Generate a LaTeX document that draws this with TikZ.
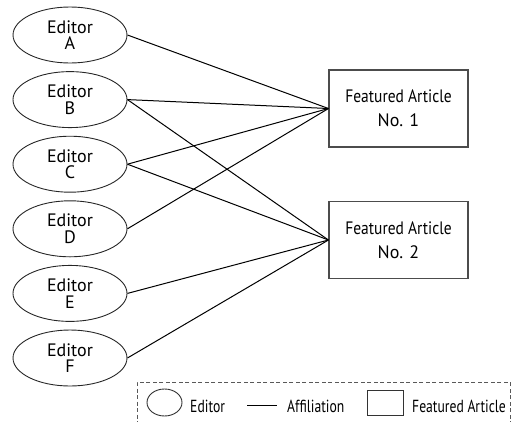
\documentclass[tikz,border=0pt]{standalone}
\usepackage{fontspec}
\setmainfont{PT Sans}
\newfontfamily\narrowsans[FakeStretch=0.86]{PT Sans}
\newfontfamily\keysans[FakeStretch=0.78]{PT Sans}
\usetikzlibrary{shapes.geometric}

\begin{document}
\begin{tikzpicture}[x=1pt,y=-1pt,
  editor/.style={ellipse, draw=black!85, line width=0.9pt,
    minimum width=114pt, minimum height=56pt, inner sep=0pt,
    align=center, font=\fontsize{18}{16.5}\selectfont},
  article/.style={rectangle, draw=black!70, line width=1.1pt,
    minimum width=139pt, minimum height=77pt, inner sep=0pt,
    align=center, font=\fontsize{18}{24}\selectfont},
  link/.style={line width=1pt, black},
  keybox/.style={draw=black!65, line width=1pt, dash pattern=on 4pt off 2.5pt},
  keytext/.style={anchor=base west, inner sep=0pt,
    font=\keysans\fontsize{17.5}{20}\selectfont},
  keyshape/.style={draw=black!80, line width=0.9pt, inner sep=0pt}
]
\useasboundingbox (0,0) rectangle (514,421);
\clip (0,0) rectangle (514,421);

% editors
\node[editor] (A) at (70,35)    {Editor\\A};
\node[editor] (B) at (70,99.6)  {Editor\\B};
\node[editor] (C) at (70,164.2) {Editor\\C};
\node[editor] (D) at (70,228.8) {Editor\\D};
\node[editor] (E) at (70,293.4) {Editor\\E};
\node[editor] (F) at (70,358)   {Editor\\F};

% featured articles
\node[article] (R1) at (398.5,108.5) {{\narrowsans Featured Article}\\No. 1};
\node[article] (R2) at (398.5,240)   {{\narrowsans Featured Article}\\No. 2};

% affiliations
\draw[link] (A.east) -- (R1.west);
\draw[link] (B.east) -- (R1.west);
\draw[link] (B.east) -- (R2.west);
\draw[link] (C.east) -- (R1.west);
\draw[link] (C.east) -- (R2.west);
\draw[link] (D.east) -- (R1.west);
\draw[link] (E.east) -- (R2.west);
\draw[link] (F.east) -- (R2.west);

% legend
\node[keybox, minimum width=373pt, minimum height=60pt, inner sep=0pt] (key) at (323.5,412) {};
\node[keyshape, ellipse, minimum width=35pt, minimum height=27pt] (keyed) at (164.5,402.5) {};
\node[keytext] (keyedtxt) at (190,412) {Editor};
\coordinate (keyl1) at (247,405);
\coordinate (keyl2) at (277,405);
\draw[link, line width=0.8pt] (keyl1) -- (keyl2);
\node[keytext] (keyaff) at (287,412) {Affiliation};
\node[keyshape, rectangle, minimum width=36pt, minimum height=25pt] (keyart) at (385,402.5) {};
\node[keytext] (keyarttxt) at (412,412) {Featured Article};
\end{tikzpicture}
\end{document}
